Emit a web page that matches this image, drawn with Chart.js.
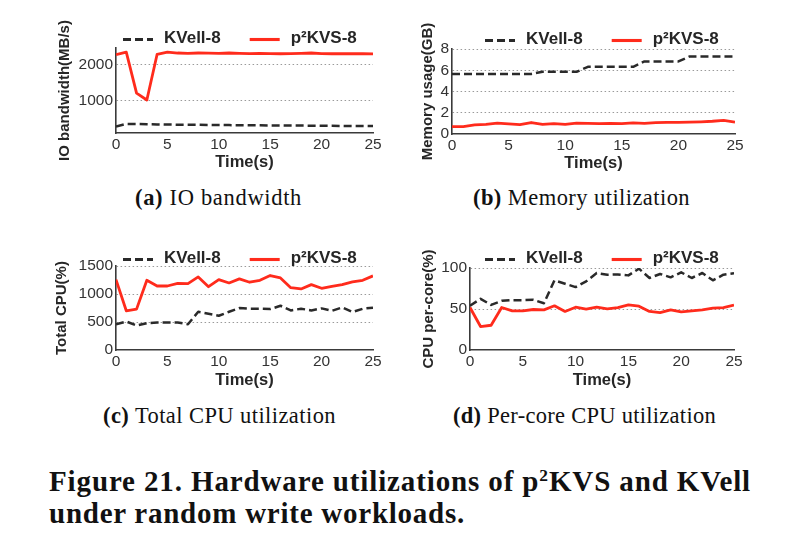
<!DOCTYPE html>
<html><head><meta charset="utf-8">
<script src="https://cdn.jsdelivr.net/npm/chart.js@4.4.1/dist/chart.umd.min.js"></script>
<style>
body{margin:0;background:#fff;width:805px;height:547px;overflow:hidden;position:relative;}
canvas{position:absolute;}
.cap{position:absolute;font-family:"Liberation Serif","Times New Roman",serif;font-size:22.5px;color:#111;white-space:nowrap;line-height:1;}
.fig{position:absolute;font-family:"Liberation Serif","Times New Roman",serif;font-weight:bold;font-size:29px;color:#111;white-space:nowrap;line-height:1;}
.sup{font-size:0.6em;position:relative;top:-0.55em;}
</style></head><body>
<canvas id="cA" width="341" height="176" style="left:52px;top:0px"></canvas>
<canvas id="cB" width="340" height="177" style="left:415px;top:0px"></canvas>
<canvas id="cC" width="344" height="174" style="left:49px;top:220px"></canvas>
<canvas id="cD" width="338" height="174" style="left:416px;top:220px"></canvas>

<div class="cap" data-w="167" style="left:135px;top:187px"><b>(a)</b> IO bandwidth</div>
<div class="cap" data-w="217" style="left:473px;top:187px"><b>(b)</b> Memory utilization</div>
<div class="cap" data-w="233" style="left:103px;top:405px"><b>(c)</b> Total CPU utilization</div>
<div class="cap" data-w="263" style="left:453px;top:405px"><b>(d)</b> Per-core CPU utilization</div>
<div class="fig" data-w="702" style="left:49px;top:466.5px">Figure 21. Hardware utilizations of p<span class="sup">2</span>KVS and KVell</div>
<div class="fig" data-w="416" style="left:49px;top:498.5px">under random write workloads.</div>

<script>
// ---- data ----
const times = [0,1,2,3,4,5,6,7,8,9,10,11,12,13,14,15,16,17,18,19,20,21,22,23,24,25];
const seriesNames = ['KVell-8', 'p\u00b2KVS-8'];

const ioKVell  = [280,355,350,345,340,335,332,330,328,325,322,320,318,316,314,312,310,308,306,305,303,300,298,296,294,292];
const ioP2KVS  = [2285,2355,1210,1020,2295,2355,2330,2320,2330,2325,2320,2330,2320,2315,2320,2315,2310,2315,2320,2330,2315,2310,2310,2315,2310,2305];

const memKVell = [5.65,5.65,5.65,5.65,5.65,5.65,5.65,5.65,5.85,5.85,5.85,5.85,6.32,6.32,6.32,6.32,6.32,6.83,6.83,6.83,6.83,7.3,7.3,7.3,7.3,7.3];
const memP2KVS = [0.7,0.7,0.85,0.9,1.03,0.95,0.88,1.08,0.9,0.97,0.9,1.02,1.0,0.97,1.0,0.98,1.05,1.0,1.08,1.1,1.1,1.12,1.15,1.2,1.28,1.12];

const cpuKVell = [460,509,437,479,491,491,491,461,683,647,611,683,748,737,737,730,790,707,737,707,743,700,760,677,737,755];
const cpuP2KVS = [1257,700,730,1245,1143,1143,1190,1185,1305,1130,1257,1197,1270,1210,1245,1330,1287,1113,1090,1168,1102,1138,1168,1215,1245,1323];

const coreKVell = [53.9,62.4,55,60,60.8,60.8,61.2,57,85,80.8,76.7,83.7,93.9,91.8,92.2,91,99.2,87.8,92.7,88.6,94.7,87.8,93.9,85,91.8,93.5];
const coreP2KVS = [51.8,28.6,30.2,51.8,47.8,47.8,49.4,49,53.9,47,52.2,49.8,52.2,50.2,51.8,55.1,53.5,47,45.7,49,46.5,47.8,49,51,51.8,54.7];

const xTicks = [0,5,10,15,20,25];
const ioTicks = [1000,2000];
const memTicks = [0,2,4,6,8];
const cpuTicks = [0,500,1000,1500];
const coreTicks = [0,50,100];

// ---- style ----
const RED = '#ff2b1c';
const DARK = '#2a2a2a';
const AXIS = '#3a3a3a';
const GRID = '#9a9a9a';
const TXT = '#262626';
const FAM = '"Liberation Sans", Arial, Helvetica, sans-serif';
Chart.defaults.font.family = FAM;

const legendPlugin = {
  id: 'customLegend',
  afterDraw(chart, args, opts) {
    const {ctx, chartArea} = chart;
    let x = chartArea.left + opts.dx;
    const y = chartArea.top + opts.dy;
    ctx.save();
    ctx.font = 'bold 17px ' + FAM;
    ctx.textBaseline = 'middle';
    chart.data.datasets.forEach(ds => {
      ctx.beginPath();
      ctx.setLineDash(ds.borderDash || []);
      ctx.lineWidth = ds.borderWidth + 0.3;
      ctx.strokeStyle = ds.borderColor;
      ctx.moveTo(x, y + 1.5); ctx.lineTo(x + 30, y + 1.5); ctx.stroke();
      ctx.setLineDash([]);
      x += 30 + 11;
      ctx.fillStyle = TXT;
      ctx.fillText(ds.label, x, y);
      x += ctx.measureText(ds.label).width + 29;
    });
    ctx.restore();
  }
};

function makeChart(id, c) {
  const pts = arr => times.map((t, i) => ({x: t, y: arr[i]}));
  return new Chart(document.getElementById(id), {
    type: 'line',
    data: {datasets: [
      {label: seriesNames[0], data: pts(c.k), borderColor: DARK, borderDash: [8, 4], borderWidth: 2.5,
       pointRadius: 0, tension: 0, fill: false, borderJoinStyle: 'round'},
      {label: seriesNames[1], data: pts(c.p), borderColor: RED, borderWidth: 2.8,
       pointRadius: 0, tension: 0, fill: false, borderJoinStyle: 'round'}
    ]},
    options: {
      responsive: false, animation: false, devicePixelRatio: 1,
      layout: {padding: {top: c.padTop, right: 20, bottom: 0, left: 0}},
      plugins: {legend: {display: false}, tooltip: {enabled: false},
                customLegend: {dx: c.legDx, dy: c.legDy}},
      scales: {
        x: {type: 'linear', min: 0, max: 25,
            afterBuildTicks: s => { s.ticks = xTicks.map(v => ({value: v})); },
            grid: {display: false, drawTicks: false},
            border: {display: true, color: AXIS, width: 1.6},
            ticks: {font: {size: 15.5}, color: '#333', padding: 2, maxRotation: 0, autoSkip: false,
                    callback: v => String(v)},
            title: {display: true, text: 'Time(s)', font: {size: 16.5, weight: 'bold'}, color: TXT,
                    padding: {top: 0, bottom: 4}},
            afterFit: s => { s.height = c.xH; }},
        y: {type: 'linear', min: c.min, max: c.max,
            afterBuildTicks: s => { s.ticks = c.ticks.map(v => ({value: v})); },
            grid: {drawTicks: false, lineWidth: 1,
                   color: ctx => (ctx.tick && ctx.tick.value === 0) ? 'rgba(0,0,0,0)' : GRID},
            border: {display: true, color: AXIS, width: 1.6, dash: [1.5, 2.5]},
            ticks: {font: {size: 15.5}, color: '#333', padding: 3, autoSkip: false,
                    callback: v => String(v)},
            title: {display: true, text: c.yTitle, font: {size: 15, weight: 'bold'}, color: TXT,
                    padding: {top: 4, bottom: 0}},
            afterFit: s => { s.width = c.yW; }}
      }
    },
    plugins: [legendPlugin]
  });
}

makeChart('cA', {k: ioKVell, p: ioP2KVS, min: 100, max: 2470, ticks: ioTicks, yTitle: 'IO bandwidth(MB/s)',
                 padTop: 48, xH: 43, yW: 64, legDx: 7, legDy: -10});
makeChart('cB', {k: memKVell, p: memP2KVS, min: 0, max: 8, ticks: memTicks, yTitle: 'Memory usage(GB)',
                 padTop: 49, xH: 43, yW: 37, legDx: 33, legDy: -10});
makeChart('cC', {k: cpuKVell, p: cpuP2KVS, min: 0, max: 1500, ticks: cpuTicks, yTitle: 'Total CPU(%)',
                 padTop: 46, xH: 44, yW: 67, legDx: 7, legDy: -8});
makeChart('cD', {k: coreKVell, p: coreP2KVS, min: 0, max: 100, ticks: coreTicks, yTitle: 'CPU per-core(%)',
                 padTop: 48, xH: 44, yW: 54, legDx: 15, legDy: -10});

// fit caption widths to the reference
document.querySelectorAll('[data-w]').forEach(el => {
  const target = parseFloat(el.dataset.w);
  const w = el.getBoundingClientRect().width;
  const n = el.textContent.length;
  el.style.letterSpacing = ((target - w) / n) + 'px';
});
</script>
</body></html>
